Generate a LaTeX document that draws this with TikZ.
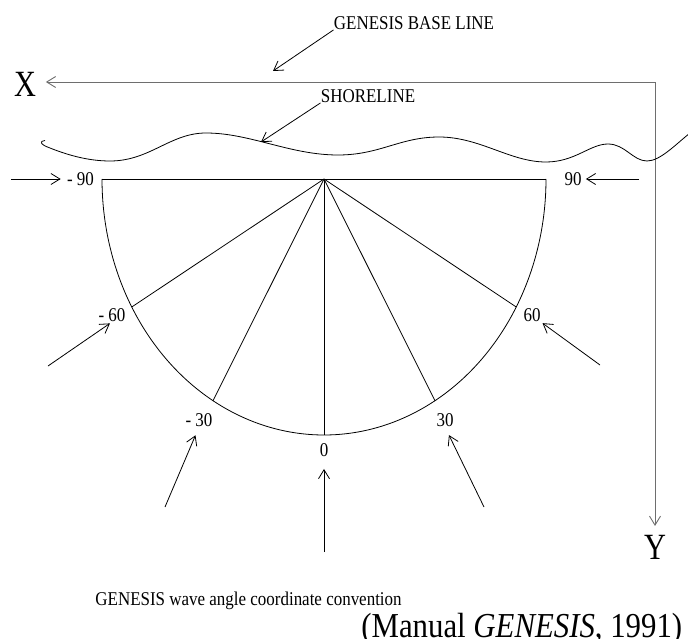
\documentclass[tikz,border=0pt]{standalone}
\usepackage{fontspec}
\setmainfont{Liberation Serif}[FakeStretch=0.87]
\newfontfamily\bigfont{Liberation Serif}[FakeStretch=0.82]
\newfontfamily\citefont{Liberation Serif}[FakeStretch=0.88]
\usetikzlibrary{arrows.meta,calc}
\definecolor{axisgray}{RGB}{110,110,110}
\begin{document}
\begin{tikzpicture}[x=1pt,y=-1pt, line width=0.8pt,
  lbl/.style={inner sep=0pt, font=\fontsize{19.5}{22}\selectfont},
  big/.style={inner sep=0pt, font=\bigfont\fontsize{37}{40}\selectfont},
  cite/.style={inner sep=0pt, anchor=base west, font=\citefont\fontsize{35}{40}\selectfont},
  barb/.tip={Straight Barb[length=9pt,width=11pt]},
  arr/.style={-barb},
  axis/.style={draw=axisgray, line width=0.9pt, barb-barb},
]
\useasboundingbox (0,0) rectangle (688,639);

% texts
\node[lbl] (gbl) at (414,23) {GENESIS BASE LINE};
\node[lbl] (shore) at (368,96) {SHORELINE};
\node[big] (X) at (25,84) {X};
\node[big] (Y) at (655,547) {Y};
\node[lbl] (m90) at (80.5,179) {- 90};
\node[lbl] (p90) at (573,179) {90};
\node[lbl] (m60) at (112,315) {- 60};
\node[lbl] (p60) at (532,315) {60};
\node[lbl] (m30) at (199,420) {- 30};
\node[lbl] (p30) at (445,420) {30};
\node[lbl] (zero) at (324,450) {0};
\node[lbl, anchor=base west] (cap) at (95,605) {GENESIS wave angle coordinate convention};
\node[cite] (ref) at (361,637) {(Manual \textit{GENESIS}, 1991)};

% base line axes
\coordinate (corner) at (655,82);
\draw[axis] ($(X.east |- corner)+(9.5,0)$) -- (corner) -- ($(Y.north)+(0,-8.5)$);

% leaders
\coordinate (gbltip) at (273,71);
\coordinate (shoretip) at (261,142);
\draw[arr] (gbl.south west) -- (gbltip);
\draw[arr] (shore.south west) -- (shoretip);

% shoreline
\draw (45,140.5) .. controls (39,141) and (40,144.5) .. (50,148)
  .. controls (70,156) and (90,161) .. (110,161)
  .. controls (150,161) and (170,133) .. (206,133)
  .. controls (250,133) and (290,155) .. (338,155)
  .. controls (380,155) and (400,137) .. (439,137)
  .. controls (480,137) and (510,162) .. (546,162)
  .. controls (575,162) and (590,144) .. (608,144)
  .. controls (625,144) and (633,161) .. (647,161)
  .. controls (660,161) and (675,145) .. (690,133);

% half ellipse and rays
\coordinate (apex) at (324,179);
\coordinate (lend) at (102,179);
\coordinate (rend) at (546,179);
\draw (lend) -- (rend);
\draw plot[domain=-90:90, samples=121, smooth] ({324+222*sin(\x)}, {179+256*cos(\x)});
\foreach \a in {-60,-30,0,30,60}{
  \coordinate (r\a) at ({324+222*sin(\a)},{179+256*cos(\a)});
  \draw (apex) -- (r\a);
}

% wave arrows
\coordinate (sm90) at (11,179);
\coordinate (sp90) at (639,179);
\coordinate (sm60) at (48,366);
\coordinate (sp60) at (600,365);
\coordinate (sm30) at (165,507);
\coordinate (sp30) at (484,507);
\coordinate (szero) at (324,552);
\draw[arr, shorten >=6pt] (sm90) -- (m90.west);
\draw[arr, shorten >=4pt] (sp90) -- (p90.east);
\draw[arr, shorten >=2.5pt] (sm60) -- (m60.south);
\draw[arr, shorten >=2pt] (sp60) -- (p60.south east);
\draw[arr, shorten >=9pt] (sm30) -- (m30.south);
\draw[arr, shorten >=9pt] (sp30) -- (p30.south);
\draw[arr, shorten >=12pt] (szero) -- (zero.south);
\end{tikzpicture}
\end{document}
